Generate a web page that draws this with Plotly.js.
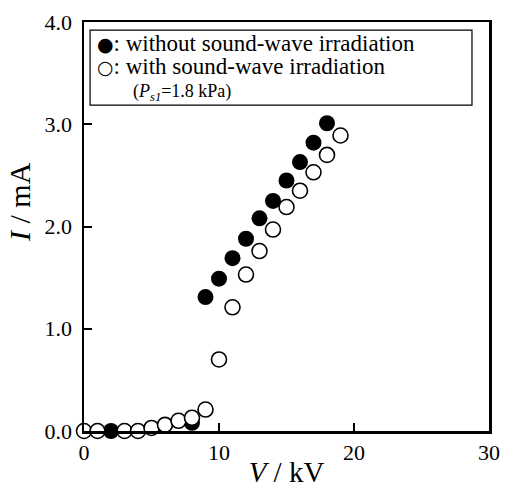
<!DOCTYPE html>
<html>
<head>
<meta charset="utf-8">
<script src="https://cdn.plot.ly/plotly-3.0.1.min.js"></script>
<style>html,body{margin:0;padding:0;background:#fff;}#chart{width:506px;height:488px;}</style>
</head>
<body>
<div id="chart"></div>
<script>
// Data
var vWithout = [2, 8, 9, 10, 11, 12, 13, 14, 15, 16, 17, 18];
var iWithout = [0.0, 0.08, 1.31, 1.49, 1.69, 1.88, 2.08, 2.25, 2.45, 2.63, 2.82, 3.01];
var vWith = [0, 1, 3, 4, 5, 6, 7, 8, 9, 10, 11, 12, 13, 14, 15, 16, 17, 18, 19];
var iWith = [0.0, 0.0, 0.0, 0.0, 0.03, 0.06, 0.1, 0.13, 0.21, 0.70, 1.21, 1.53, 1.76, 1.97, 2.19, 2.35, 2.53, 2.70, 2.89];
var xTicks = [0, 10, 20, 30];
var yTicks = [0, 1, 2, 3, 4];
var legendSymbols = ['\u25CF', '\u25CB'];
var legendLabels = [': without sound-wave irradiation', ': with sound-wave irradiation', '(<i>P</i><sub><i>s1</i></sub>=1.8 kPa)'];

var serif = 'Liberation Serif, Times New Roman, serif';

var traces = [
  {x: vWithout, y: iWithout, mode: 'markers', type: 'scatter', cliponaxis: false,
   marker: {size: 16, color: '#000', line: {width: 0}}, name: 'without', showlegend: false},
  {x: vWith, y: iWith, mode: 'markers', type: 'scatter', cliponaxis: false,
   marker: {size: 15, color: '#fff', line: {width: 1.6, color: '#000'}}, name: 'with', showlegend: false}
];

function sym(s) { return '<span style="font-size:19px;font-family:DejaVu Sans">' + s + '</span>'; }

var layout = {
  width: 506, height: 488,
  margin: {l: 84, r: 17, t: 22, b: 57},
  paper_bgcolor: '#fff', plot_bgcolor: '#fff',
  font: {family: serif, color: '#000', size: 21},
  showlegend: false,
  xaxis: {
    range: [0, 30], tickvals: xTicks, ticktext: xTicks.map(String),
    ticks: 'inside', ticklen: 8, tickwidth: 2, tickcolor: '#000',
    showline: true, linewidth: 2.5, linecolor: '#000', mirror: true,
    showgrid: false, zeroline: false,
    tickfont: {family: serif, size: 22},
    title: {text: '<i>V</i> / kV', font: {family: serif, size: 29}, standoff: 2}
  },
  yaxis: {
    range: [0, 4], tickvals: yTicks, ticktext: yTicks.map(function(v){return v.toFixed(1);}),
    ticks: 'inside', ticklen: 8, tickwidth: 2, tickcolor: '#000',
    showline: true, linewidth: 2.5, linecolor: '#000', mirror: true,
    showgrid: false, zeroline: false, ticklabelstandoff: 5,
    tickfont: {family: serif, size: 22}
  },
  shapes: [
    {type: 'rect', xref: 'paper', yref: 'paper', x0: 0.015, x1: 0.958, y0: 0.797, y1: 0.980,
     line: {color: '#000', width: 1.2}, fillcolor: 'rgba(0,0,0,0)'}
  ],
  annotations: [
    {xref: 'paper', yref: 'paper', x: 0.028, y: 0.947, xanchor: 'left', yanchor: 'middle',
     text: sym(legendSymbols[0]) + legendLabels[0], showarrow: false, font: {family: serif, size: 23}},
    {xref: 'paper', yref: 'paper', x: 0.028, y: 0.890, xanchor: 'left', yanchor: 'middle',
     text: sym(legendSymbols[1]) + legendLabels[1], showarrow: false, font: {family: serif, size: 23}},
    {xref: 'paper', yref: 'paper', x: 0.116, y: 0.827, xanchor: 'left', yanchor: 'middle',
     text: legendLabels[2], showarrow: false, font: {family: serif, size: 18}},
    {xref: 'paper', yref: 'paper', x: -0.158, y: 0.56, xanchor: 'center', yanchor: 'middle',
     textangle: -90, text: '<i>I</i> / mA', showarrow: false, font: {family: serif, size: 30}}
  ]
};

Plotly.newPlot('chart', traces, layout, {displayModeBar: false, staticPlot: true});
</script>
</body>
</html>
